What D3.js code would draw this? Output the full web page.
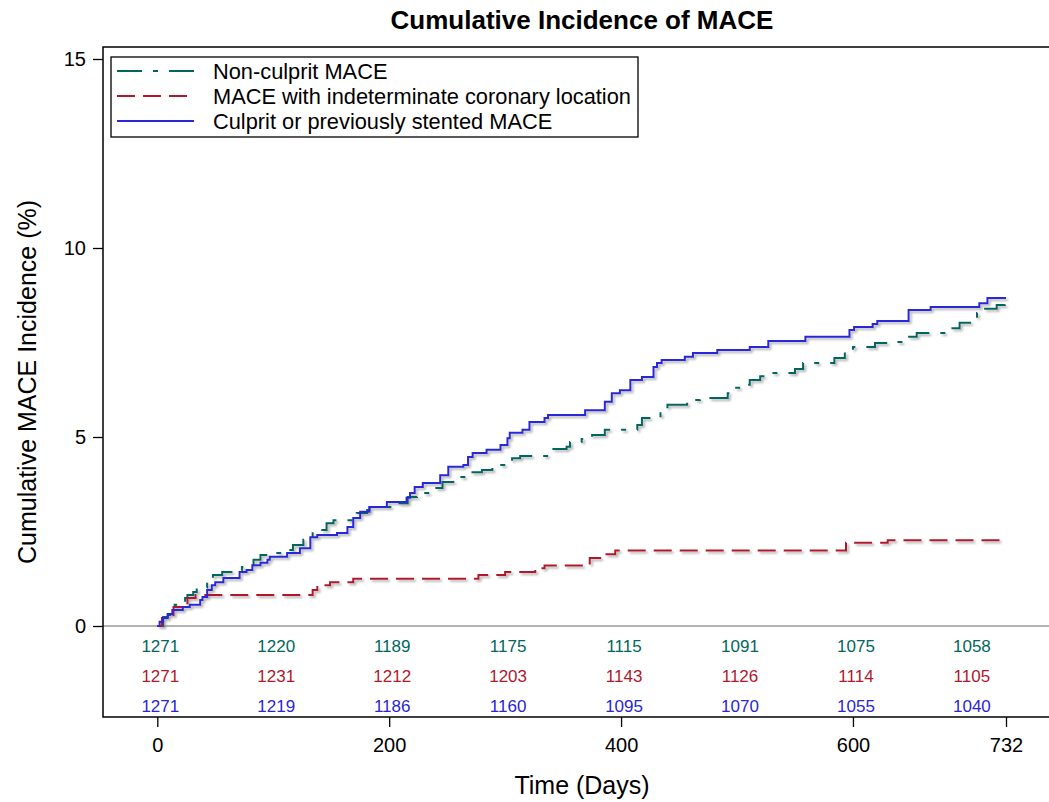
<!DOCTYPE html>
<html>
<head>
<meta charset="utf-8">
<script src="https://cdn.jsdelivr.net/npm/d3@7"></script>
<style>
  body { margin: 0; background: #fff; }
  svg { display: block; }
  text { font-family: Arial, "Liberation Sans", sans-serif; }
</style>
</head>
<body>
<svg id="chart" width="1049" height="802"></svg>
<script>
// Cumulative incidence step data: [day, percent]
const nonCulprit = [
  [0,0],[5,0.24],[9,0.29],[13,0.42],[15,0.56],[24,0.74],[26,0.82],[31,0.90],[34,1.01],
  [43,1.16],[48,1.35],[56,1.43],[64,1.48],[73,1.56],[83,1.75],[89,1.88],[97,1.93],
  [106,2.01],[117,2.14],[126,2.28],[134,2.54],[146,2.72],[152,2.80],[172,2.99],[181,3.07],
  [183,3.15],[201,3.25],[216,3.41],[224,3.52],[238,3.65],[246,3.81],[261,3.94],[267,4.07],
  [280,4.13],[289,4.26],[304,4.34],[306,4.44],[313,4.50],[340,4.68],[353,4.74],[356,4.87],
  [366,4.95],[375,5.05],[386,5.19],[414,5.32],[418,5.50],[434,5.71],[440,5.85],[457,5.98],
  [468,6.03],[492,6.16],[496,6.30],[504,6.38],[511,6.51],[520,6.61],[526,6.69],[550,6.80],
  [557,6.96],[584,7.09],[593,7.25],[600,7.38],[619,7.49],[632,7.51],[643,7.65],[655,7.75],
  [682,7.88],[692,8.02],[703,8.12],[707,8.28],[714,8.39],[724,8.49],[731,8.65]
];
const indeterminate = [
  [0,0],[4,0.21],[8,0.29],[14,0.50],[21,0.56],[26,0.74],[33,0.82],[134,0.95],[138,1.08],
  [149,1.16],[169,1.25],[277,1.35],[300,1.43],[326,1.53],[334,1.60],[373,1.80],[382,1.90],
  [395,2.00],[594,2.20],[630,2.27]
];
const culprit = [
  [0,0],[2,0.11],[5,0.21],[9,0.32],[13,0.42],[22,0.50],[28,0.56],[37,0.69],[39,0.77],
  [43,0.95],[47,1.08],[50,1.16],[57,1.27],[71,1.43],[77,1.48],[82,1.61],[89,1.67],[95,1.75],
  [97,1.83],[112,1.93],[123,2.06],[132,2.35],[138,2.41],[155,2.46],[164,2.62],[169,2.86],
  [175,3.02],[183,3.15],[198,3.28],[215,3.39],[218,3.52],[222,3.68],[229,3.78],[244,3.99],
  [251,4.21],[264,4.26],[268,4.47],[272,4.58],[284,4.66],[296,4.79],[302,4.97],[304,5.11],
  [315,5.19],[321,5.40],[334,5.50],[337,5.58],[369,5.71],[386,5.93],[392,6.16],[399,6.24],
  [408,6.51],[418,6.59],[428,6.85],[431,6.96],[435,7.04],[455,7.12],[462,7.22],[483,7.30],
  [511,7.38],[527,7.54],[559,7.65],[597,7.83],[601,7.91],[617,7.99],[621,8.07],[648,8.36],
  [667,8.44],[709,8.54],[716,8.68]
];
const lastDay = 732;

// Number at risk
const riskDays = [0, 100, 200, 300, 400, 500, 600, 700];
const riskNonCulprit = [1271, 1220, 1189, 1175, 1115, 1091, 1075, 1058];
const riskIndeterminate = [1271, 1231, 1212, 1203, 1143, 1126, 1114, 1105];
const riskCulprit = [1271, 1219, 1186, 1160, 1095, 1070, 1055, 1040];

const xTicks = [0, 200, 400, 600, 732];
const yTicks = [0, 5, 10, 15];

const seriesNames = ["Non-culprit MACE", "MACE with indeterminate coronary location", "Culprit or previously stented MACE"];
const seriesColors = ["#01665E", "#B2182B", "#2A25D9"];
const seriesDash = ["25,11,5,11", "18,8", null];

const svg = d3.select("#chart");
const frame = { left: 103, top: 47, right: 1061, bottom: 717 };

const x = d3.scaleLinear().domain([0, 732]).range([157.3, 1006]);
const y = d3.scaleLinear().domain([0, 15]).range([626, 59]);

// Drop shadow for the curves
const defs = svg.append("defs");
const f = defs.append("filter").attr("id", "shadow")
  .attr("x", "-5%").attr("y", "-5%").attr("width", "110%").attr("height", "110%");
f.append("feDropShadow").attr("dx", 2).attr("dy", 2).attr("stdDeviation", 0.9)
  .attr("flood-color", "#7a7a7a").attr("flood-opacity", 0.6);

// Title
svg.append("text").attr("x", 582).attr("y", 29).attr("text-anchor", "middle")
  .attr("font-size", 26).attr("font-weight", "bold").text("Cumulative Incidence of MACE");

// Zero reference line
svg.append("line").attr("x1", frame.left).attr("x2", frame.right)
  .attr("y1", y(0)).attr("y2", y(0)).attr("stroke", "#9a9a9a").attr("stroke-width", 1.3);

// Axes
const yAxis = d3.axisLeft(y).tickValues(yTicks).tickSize(10).tickPadding(7).tickFormat(d3.format("d"));
const gy = svg.append("g").attr("transform", `translate(${frame.left},0)`).call(yAxis);
gy.select(".domain").remove();
gy.selectAll("line").attr("stroke", "#000").attr("stroke-width", 1.3);
gy.selectAll("text").attr("font-size", 20).attr("fill", "#000").attr("font-family", "Arial, 'Liberation Sans', sans-serif");

const xAxis = d3.axisBottom(x).tickValues(xTicks).tickSize(10).tickPadding(11).tickFormat(d3.format("d"));
const gx = svg.append("g").attr("transform", `translate(0,${frame.bottom})`).call(xAxis);
gx.select(".domain").remove();
gx.selectAll("line").attr("stroke", "#000").attr("stroke-width", 1.3);
gx.selectAll("text").attr("font-size", 20).attr("fill", "#000").attr("font-family", "Arial, 'Liberation Sans', sans-serif");

// Frame
svg.append("rect").attr("x", frame.left).attr("y", frame.top)
  .attr("width", frame.right - frame.left).attr("height", frame.bottom - frame.top)
  .attr("fill", "none").attr("stroke", "#000").attr("stroke-width", 1.5);

// Axis labels
svg.append("text").attr("x", 582).attr("y", 794).attr("text-anchor", "middle")
  .attr("font-size", 25).text("Time (Days)");
svg.append("text").attr("transform", `translate(36,${(frame.top + frame.bottom) / 2}) rotate(-90)`)
  .attr("text-anchor", "middle").attr("font-size", 25).text("Cumulative MACE Incidence (%)");

// Curves
const line = d3.line().x(d => x(d[0])).y(d => y(d[1])).curve(d3.curveStepAfter);
const allSeries = [nonCulprit, indeterminate, culprit];
const curves = svg.append("g").attr("filter", "url(#shadow)");
allSeries.forEach((s, i) => {
  const pts = s.concat([[lastDay, s[s.length - 1][1]]]);
  curves.append("path").datum(pts).attr("d", line)
    .attr("fill", "none").attr("stroke", seriesColors[i]).attr("stroke-width", 2)
    .attr("stroke-dasharray", seriesDash[i]);
});

// Number-at-risk rows
const riskRows = [riskNonCulprit, riskIndeterminate, riskCulprit];
const rowY = [652, 682, 712];
riskRows.forEach((row, i) => {
  svg.append("g").selectAll("text").data(row).join("text")
    .attr("x", (d, j) => x(riskDays[j]) + 3).attr("y", rowY[i])
    .attr("text-anchor", "middle").attr("font-size", 17)
    .attr("fill", seriesColors[i]).text(d => d);
});

// Legend
const lg = svg.append("g");
lg.append("rect").attr("x", 111).attr("y", 57).attr("width", 527).attr("height", 80)
  .attr("fill", "#fff").attr("stroke", "#000").attr("stroke-width", 1.3);
seriesNames.forEach((name, i) => {
  const ly = 71 + i * 25;
  lg.append("line").attr("x1", 117).attr("x2", 194).attr("y1", ly).attr("y2", ly)
    .attr("stroke", seriesColors[i]).attr("stroke-width", 1.8)
    .attr("stroke-dasharray", seriesDash[i]);
  lg.append("text").attr("x", 213).attr("y", ly + 8).attr("font-size", 21.8).text(name);
});
</script>
</body>
</html>
